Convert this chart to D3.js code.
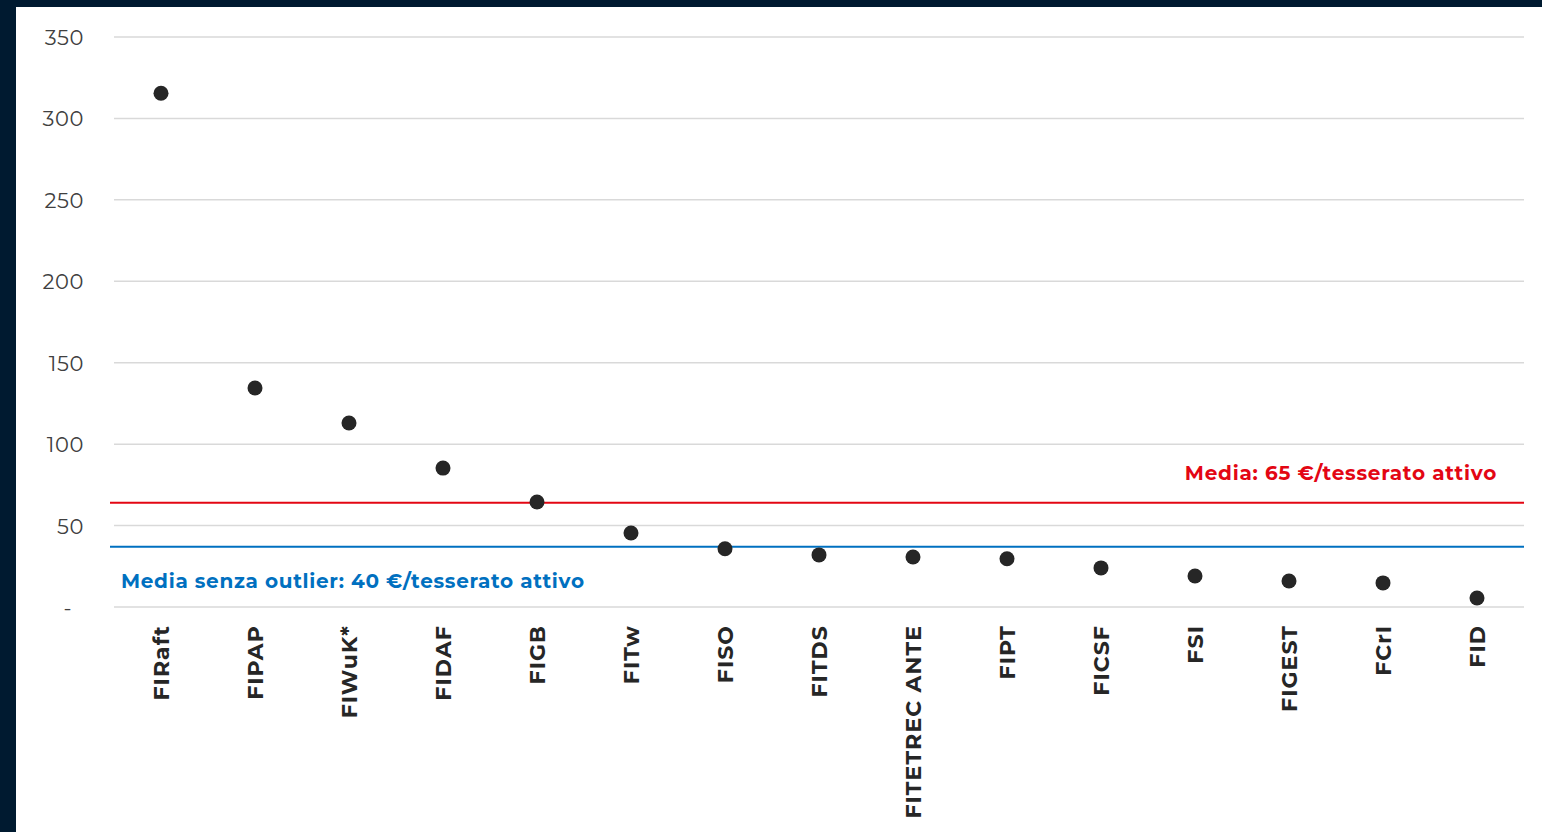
<!DOCTYPE html>
<html><head><meta charset="utf-8">
<script src="https://cdn.jsdelivr.net/npm/d3@7/dist/d3.min.js"></script>
<style>html,body{margin:0;padding:0;background:#fff;}svg{display:block;}</style>
</head><body>
<script>
const categories = ["FIRaft","FIPAP","FIWuK*","FIDAF","FIGB","FITw","FISO","FITDS","FITETREC ANTE","FIPT","FICSF","FSI","FIGEST","FCrI","FID"];
const values = [315.5, 134.5, 113, 85.3, 64.5, 45.4, 35.8, 32, 30.7, 29.6, 24, 19, 16, 14.8, 5.5];
const yTicks = [0, 50, 100, 150, 200, 250, 300, 350];
const meanAll = 64;
const meanNoOutlier = 37;
const meanAllLabel = "Media: 65 €/tesserato attivo";
const meanNoOutlierLabel = "Media senza outlier: 40 €/tesserato attivo";

const W = 1542, H = 832;
const svg = d3.select("body").append("svg").attr("width", W).attr("height", H);
svg.append("rect").attr("width", W).attr("height", H).attr("fill", "#001a30");
svg.append("rect").attr("x", 16).attr("y", 7).attr("width", W - 16).attr("height", H - 7).attr("fill", "#fff");

const x = d3.scaleBand().domain(categories).range([114, 1524]);
const y = d3.scaleLinear().domain([0, 350]).range([607, 37]);
const font = "Montserrat, 'Noto Sans', 'Open Sans', sans-serif";

// gridlines
svg.append("g").selectAll("line").data(yTicks).join("line")
  .attr("x1", 114).attr("x2", 1524)
  .attr("y1", d => y(d)).attr("y2", d => y(d))
  .attr("stroke", "#d9d9d9").attr("stroke-width", 1.5);

// y axis labels
const yAxis = d3.axisLeft(y).tickValues(yTicks).tickSize(0).tickPadding(0)
  .tickFormat(d => d === 0 ? "-" : d);
const ga = svg.append("g").attr("transform", "translate(84,0)").call(yAxis);
ga.select(".domain").remove();
ga.selectAll("text").attr("font-family", font).attr("font-size", 21).attr("letter-spacing", 0.6)
  .attr("fill", "#404040").attr("dy", "0.36em")
  .attr("x", d => d === 0 ? -12 : 0);

// x axis labels
const xAxis = d3.axisBottom(x).tickSize(0).tickPadding(0);
const gx = svg.append("g").attr("transform", "translate(0,625)").call(xAxis);
gx.select(".domain").remove();
gx.selectAll("text")
  .attr("font-family", font).attr("font-size", 22).attr("font-weight", "bold").attr("fill", "#262626")
  .attr("letter-spacing", 1.1)
  .attr("transform", "rotate(-90)")
  .attr("text-anchor", "end").attr("x", 0).attr("y", 0).attr("dy", "0.36em");

// mean lines
svg.append("line").attr("x1", 110).attr("x2", 1524).attr("y1", y(meanAll)).attr("y2", y(meanAll))
  .attr("stroke", "#e30613").attr("stroke-width", 2.2);
svg.append("line").attr("x1", 110).attr("x2", 1524).attr("y1", y(meanNoOutlier)).attr("y2", y(meanNoOutlier))
  .attr("stroke", "#0070c0").attr("stroke-width", 2.2);

svg.append("text").attr("x", 1497).attr("y", 480).attr("text-anchor", "end")
  .attr("font-family", font).attr("font-size", 20).attr("font-weight", "bold").attr("fill", "#e30613")
  .attr("letter-spacing", 0.75)
  .text(meanAllLabel);
svg.append("text").attr("x", 121).attr("y", 588).attr("text-anchor", "start")
  .attr("font-family", font).attr("font-size", 20).attr("font-weight", "bold").attr("fill", "#0070c0")
  .attr("letter-spacing", 0.7)
  .text(meanNoOutlierLabel);

// dots
svg.append("g").selectAll("circle").data(values).join("circle")
  .attr("cx", (d, i) => x(categories[i]) + x.bandwidth() / 2)
  .attr("cy", d => y(d))
  .attr("r", 7.5)
  .attr("fill", "#262626");
</script>
</body></html>
